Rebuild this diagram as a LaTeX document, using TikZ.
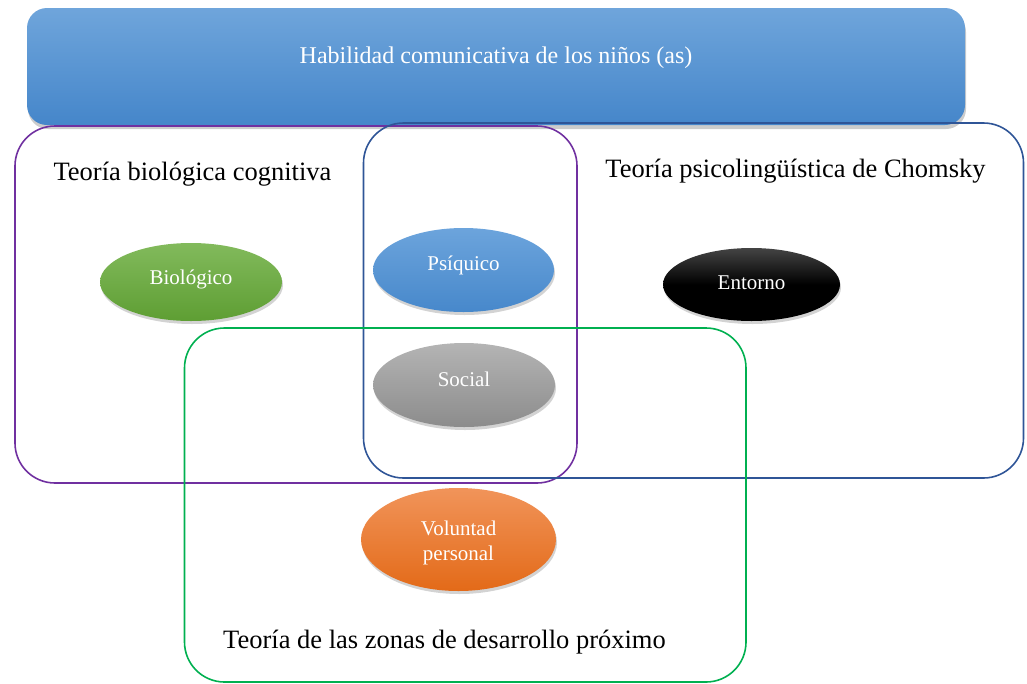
\documentclass[tikz,border=0pt]{standalone}
\usepackage{fontspec}
\setmainfont{Liberation Serif}
\usetikzlibrary{shapes.geometric,shadows}
\definecolor{cpurple}{HTML}{7030A0}
\definecolor{cblue}{HTML}{2F5597}
\definecolor{cgreen}{HTML}{00B050}
\definecolor{topA}{HTML}{6FA5DB}
\definecolor{topB}{HTML}{4586CA}
\definecolor{bioA}{HTML}{82BA5C}
\definecolor{bioB}{HTML}{5E9E33}
\definecolor{psiA}{HTML}{6CA4DC}
\definecolor{psiB}{HTML}{4788CB}
\definecolor{entA}{HTML}{444444}
\definecolor{entB}{HTML}{000000}
\definecolor{socA}{HTML}{B4B4B4}
\definecolor{socB}{HTML}{8C8C8C}
\definecolor{volA}{HTML}{F1945A}
\definecolor{volB}{HTML}{E36A18}
\tikzset{
  theory/.style={draw, line width=1.6pt, rounded corners=40pt, inner sep=0pt, fill=none},
  oval/.style={ellipse, inner sep=0pt,
    drop shadow={opacity=0.35, shadow xshift=1pt, shadow yshift=-3pt}},
  ovaltext/.style={anchor=base, text=white, font=\fontsize{21}{25}\selectfont},
  tlabel/.style={anchor=base, font=\fontsize{26.5}{30}\selectfont, text=black},
}
\begin{document}
\begin{tikzpicture}[x=1pt,y=-1pt]
\useasboundingbox (0,0) rectangle (1027,683);
% top banner
\node[rounded corners=20pt, minimum width=938pt, minimum height=117pt, inner sep=0pt,
  top color=topA, bottom color=topB, draw=none,
  drop shadow={opacity=0.4, shadow xshift=1pt, shadow yshift=-4pt}] (top) at (496,66.5) {};
\node[anchor=base, text=white, font=\fontsize{24}{28}\selectfont] (toptext) at (496,63) {Habilidad comunicativa de los niños (as)};
% ellipses
\node[oval, minimum width=182pt, minimum height=78pt, top color=bioA, bottom color=bioB] (bio) at (191,282) {};
\node[ovaltext] (biot) at (191,284) {Biológico};
\node[oval, minimum width=181pt, minimum height=84pt, top color=psiA, bottom color=psiB] (psi) at (463.5,270) {};
\node[ovaltext] (psit) at (463.5,270) {Psíquico};
\node[oval, minimum width=177pt, minimum height=73pt, top color=entA, bottom color=entB, middle color=entB] (ent) at (751.5,284.5) {};
\node[ovaltext] (entt) at (751.5,289) {Entorno};
\node[oval, minimum width=182pt, minimum height=84pt, top color=socA, bottom color=socB] (soc) at (464,385) {};
\node[ovaltext] (soct) at (464,386) {Social};
\node[oval, minimum width=195pt, minimum height=103pt, top color=volA, bottom color=volB] (vol) at (458.5,539.5) {};
\node[ovaltext] (volt1) at (458.5,535) {Voluntad};
\node[ovaltext] (volt2) at (458.5,560) {personal};
% theory boxes
\node[theory, draw=cpurple, minimum width=562pt, minimum height=357pt] (bioBox) at (296,304.5) {};
\node[theory, draw=cblue, minimum width=660pt, minimum height=355pt] (chomBox) at (693.5,300.5) {};
\node[theory, draw=cgreen, minimum width=561.5pt, minimum height=354pt] (zonBox) at (465.25,505) {};
% theory labels
\node[tlabel] (l1) at (192.5,180) {Teoría biológica cognitiva};
\node[tlabel] (l2) at (795.5,177) {Teoría psicolingüística de Chomsky};
\node[tlabel] (l3) at (444.5,648) {Teoría de las zonas de desarrollo próximo};
\end{tikzpicture}
\end{document}
